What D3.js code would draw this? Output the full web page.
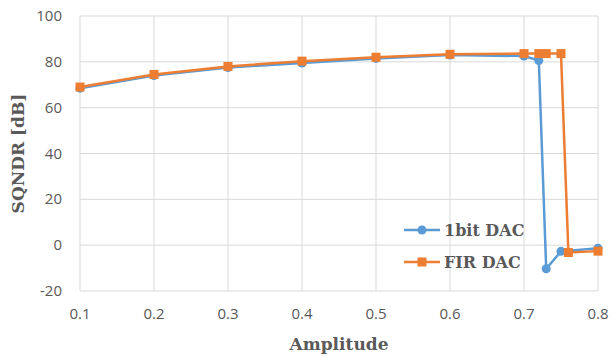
<!DOCTYPE html>
<html>
<head>
<meta charset="utf-8">
<script src="https://cdn.jsdelivr.net/npm/d3@7"></script>
<style>
  body { margin: 0; background: #fff; }
</style>
</head>
<body>
<div id="chart"></div>
<script>
// data
const amp1bit = [0.1, 0.2, 0.3, 0.4, 0.5, 0.6, 0.7, 0.72, 0.73, 0.75, 0.8];
const sqndr1bit = [68.5, 74, 77.5, 79.5, 81.5, 83, 82.5, 80.6, -10.3, -2.7, -1.3];
const ampFir = [0.1, 0.2, 0.3, 0.4, 0.5, 0.6, 0.7, 0.72, 0.73, 0.75, 0.76, 0.8];
const sqndrFir = [69, 74.5, 78, 80.3, 82, 83.3, 83.6, 83.6, 83.6, 83.6, -3.2, -2.6];
const xTicks = [0.1, 0.2, 0.3, 0.4, 0.5, 0.6, 0.7, 0.8];
const yTicks = [-20, 0, 20, 40, 60, 80, 100];

const width = 613, height = 356;
const margin = {top: 16, right: 15, bottom: 65, left: 80};

const svg = d3.select("#chart").append("svg")
  .attr("width", width)
  .attr("height", height);

const x = d3.scaleLinear().domain([0.1, 0.8]).range([margin.left, width - margin.right]);
const y = d3.scaleLinear().domain([-20, 100]).range([height - margin.bottom, margin.top]);

// grid
svg.append("g").selectAll("line").data(yTicks).enter().append("line")
  .attr("x1", x(0.1)).attr("x2", x(0.8))
  .attr("y1", d => y(d)).attr("y2", d => y(d))
  .attr("stroke", "#d9d9d9").attr("stroke-width", 1);
svg.append("g").selectAll("line").data(xTicks).enter().append("line")
  .attr("x1", d => x(d)).attr("x2", d => x(d))
  .attr("y1", y(-20)).attr("y2", y(100))
  .attr("stroke", "#d9d9d9").attr("stroke-width", 1);

// tick labels
svg.append("g").selectAll("text").data(yTicks).enter().append("text")
  .attr("x", margin.left - 18).attr("y", d => y(d) + 5)
  .attr("text-anchor", "end")
  .attr("font-family", "'Open Sans', sans-serif").attr("font-size", 15)
  .attr("fill", "#595959")
  .text(d => d);
svg.append("g").selectAll("text").data(xTicks).enter().append("text")
  .attr("x", d => x(d)).attr("y", y(-20) + 28)
  .attr("text-anchor", "middle")
  .attr("font-family", "'Open Sans', sans-serif").attr("font-size", 15)
  .attr("fill", "#595959")
  .text(d => d.toFixed(1));

// axis titles
svg.append("text")
  .attr("transform", "translate(24," + ((margin.top + y(-20)) / 2) + ") rotate(-90)")
  .attr("text-anchor", "middle")
  .attr("font-family", "'DejaVu Serif', serif").attr("font-weight", "bold").attr("font-size", 17)
  .attr("fill", "#595959")
  .text("SQNDR [dB]");
svg.append("text")
  .attr("x", (x(0.1) + x(0.8)) / 2).attr("y", 350)
  .attr("text-anchor", "middle")
  .attr("font-family", "'DejaVu Serif', serif").attr("font-weight", "bold").attr("font-size", 17)
  .attr("fill", "#595959")
  .text("Amplitude");

const line = d3.line().x(d => x(d[0])).y(d => y(d[1]));
const blue = "#5B9BD5", orange = "#ED7D31";
const d1 = amp1bit.map((a, i) => [a, sqndr1bit[i]]);
const d2 = ampFir.map((a, i) => [a, sqndrFir[i]]);

// 1bit DAC
svg.append("path").datum(d1).attr("d", line)
  .attr("fill", "none").attr("stroke", blue).attr("stroke-width", 2.5);
svg.append("g").selectAll("circle").data(d1).enter().append("circle")
  .attr("cx", d => x(d[0])).attr("cy", d => y(d[1])).attr("r", 4.5)
  .attr("fill", blue);

// FIR DAC
svg.append("path").datum(d2).attr("d", line)
  .attr("fill", "none").attr("stroke", orange).attr("stroke-width", 2.5);
svg.append("g").selectAll("rect").data(d2).enter().append("rect")
  .attr("x", d => x(d[0]) - 4.5).attr("y", d => y(d[1]) - 4.5)
  .attr("width", 9).attr("height", 9)
  .attr("fill", orange);

// legend
const legend = [
  {name: "1bit DAC", color: blue, shape: "circle"},
  {name: "FIR DAC", color: orange, shape: "square"}
];
legend.forEach((l, i) => {
  const ly = 230 + i * 32;
  const g = svg.append("g");
  g.append("line").attr("x1", 404).attr("x2", 440).attr("y1", ly).attr("y2", ly)
    .attr("stroke", l.color).attr("stroke-width", 2.5);
  if (l.shape === "circle") {
    g.append("circle").attr("cx", 422).attr("cy", ly).attr("r", 4.5).attr("fill", l.color);
  } else {
    g.append("rect").attr("x", 417.5).attr("y", ly - 4.5).attr("width", 9).attr("height", 9).attr("fill", l.color);
  }
  g.append("text").attr("x", 444).attr("y", ly + 6)
    .attr("font-family", "'DejaVu Serif', serif").attr("font-weight", "bold").attr("font-size", 16)
    .attr("fill", "#595959")
    .text(l.name);
});
</script>
</body>
</html>
